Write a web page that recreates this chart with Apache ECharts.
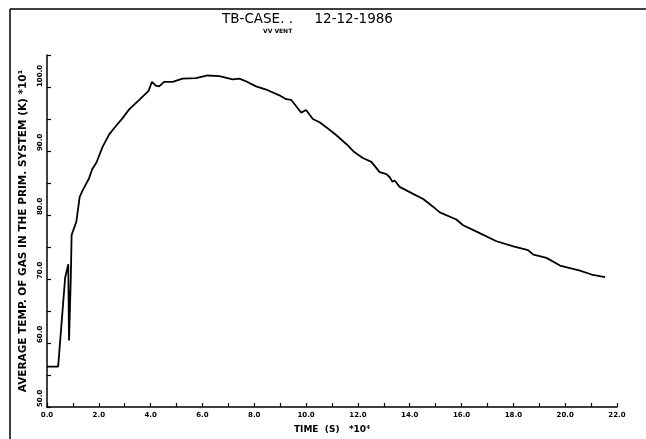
<!DOCTYPE html>
<html>
<head>
<meta charset="utf-8">
<script src="https://cdn.jsdelivr.net/npm/echarts@6/dist/echarts.min.js"></script>
<style>
html,body{margin:0;padding:0;background:#fff;}
#chart{width:646px;height:439px;}
</style>
</head>
<body>
<div id="chart"></div>
<script>
// Time (s) * 10^4
const timeValues = [0, 0.43, 0.70, 0.82, 0.85, 0.92, 0.95, 1.13, 1.26, 1.37, 1.62, 1.75, 1.91, 2.14, 2.40, 2.66, 2.91, 3.17, 3.56, 3.92, 4.05, 4.20, 4.33, 4.52, 4.85, 5.23, 5.75, 6.20, 6.65, 7.17, 7.42, 7.68, 8.07, 8.52, 8.97, 9.23, 9.42, 9.62, 9.81, 10.00, 10.26, 10.52, 10.78, 11.16, 11.55, 11.87, 12.19, 12.52, 12.84, 13.10, 13.23, 13.33, 13.42, 13.61, 14.13, 14.52, 14.90, 15.16, 15.80, 16.06, 16.58, 17.35, 18.00, 18.57, 18.77, 19.28, 19.80, 20.57, 21.02, 21.54];
// Average temperature (K) * 10^1
const tempValues = [56.3, 56.3, 70.2, 72.3, 60.4, 70.4, 76.9, 78.9, 82.8, 83.8, 85.7, 87.2, 88.2, 90.6, 92.6, 93.9, 95.1, 96.5, 98.0, 99.4, 100.8, 100.2, 100.1, 100.8, 100.8, 101.3, 101.4, 101.8, 101.7, 101.2, 101.3, 100.9, 100.1, 99.5, 98.7, 98.1, 98.0, 97.0, 96.0, 96.4, 95.0, 94.5, 93.7, 92.5, 91.1, 89.8, 88.9, 88.3, 86.7, 86.4, 85.9, 85.2, 85.4, 84.4, 83.3, 82.5, 81.3, 80.4, 79.3, 78.4, 77.4, 75.9, 75.1, 74.5, 73.8, 73.3, 72.1, 71.3, 70.7, 70.3];
const xTickLabels = ['0.0','2.0','4.0','6.0','8.0','10.0','12.0','14.0','16.0','18.0','20.0','22.0'];
const yTickLabels = ['50.0','60.0','70.0','80.0','90.0','100.0'];
const titleText = 'TB-CASE. .     12-12-1986';
const subtitleText = 'VV VENT';
const xAxisName = 'TIME  (S)   *10\u2074';
const yAxisName = 'AVERAGE TEMP. OF GAS IN THE PRIM. SYSTEM (K) *10\u00B9';

const chart = echarts.init(document.getElementById('chart'), null, {renderer: 'canvas'});
const labelFont = {fontFamily: 'DejaVu Sans', fontWeight: 'bold', fontSize: 7, color: '#000'};
chart.setOption({
  animation: false,
  backgroundColor: '#fff',
  title: [{
    text: titleText,
    left: 222, top: 12, padding: 0,
    textStyle: {fontFamily: 'DejaVu Sans', fontWeight: 'normal', fontSize: 13.5, color: '#000'}
  }, {
    text: subtitleText,
    left: 263, top: 28, padding: 0,
    textStyle: {fontFamily: 'DejaVu Sans', fontWeight: 'bold', fontSize: 6, color: '#000'}
  }],
  graphic: [
    {type: 'line', shape: {x1: 10, y1: 9, x2: 646, y2: 9}, style: {stroke: '#000', lineWidth: 1.5}},
    {type: 'line', shape: {x1: 10, y1: 9, x2: 10, y2: 439}, style: {stroke: '#000', lineWidth: 1.5}}
  ],
  grid: {left: 47, right: 29, top: 55, bottom: 29},
  xAxis: {
    type: 'value', min: 0, max: 22, interval: 1,
    name: xAxisName, nameLocation: 'middle', nameGap: 18,
    nameTextStyle: {fontFamily: 'DejaVu Sans', fontWeight: 'bold', fontSize: 9, color: '#000'},
    axisLine: {lineStyle: {color: '#000', width: 1.5}},
    axisTick: {inside: true, length: 4, lineStyle: {color: '#000', width: 1.2}},
    axisLabel: Object.assign({margin: 5, formatter: function(v){ return v % 2 === 0 ? xTickLabels[v/2] : ''; }}, labelFont),
    splitLine: {show: false}
  },
  yAxis: {
    type: 'value', min: 50, max: 105, interval: 5,
    name: yAxisName, nameLocation: 'middle', nameGap: 16, nameRotate: 90,
    nameTextStyle: {fontFamily: 'DejaVu Sans', fontWeight: 'bold', fontSize: 10.5, color: '#000'},
    axisLine: {show: true, lineStyle: {color: '#000', width: 1.5}},
    axisTick: {show: true, inside: true, length: 4, lineStyle: {color: '#000', width: 1.2}},
    axisLabel: Object.assign({margin: 7, rotate: 90, align: 'left', verticalAlign: 'middle',
      formatter: function(v){ return v % 10 === 0 ? yTickLabels[(v-50)/10] : ''; }}, labelFont),
    splitLine: {show: false}
  },
  series: [{
    type: 'line',
    data: timeValues.map((t, i) => [t, tempValues[i]]),
    showSymbol: false,
    lineStyle: {color: '#000', width: 1.8},
    silent: true
  }]
});
</script>
</body>
</html>
